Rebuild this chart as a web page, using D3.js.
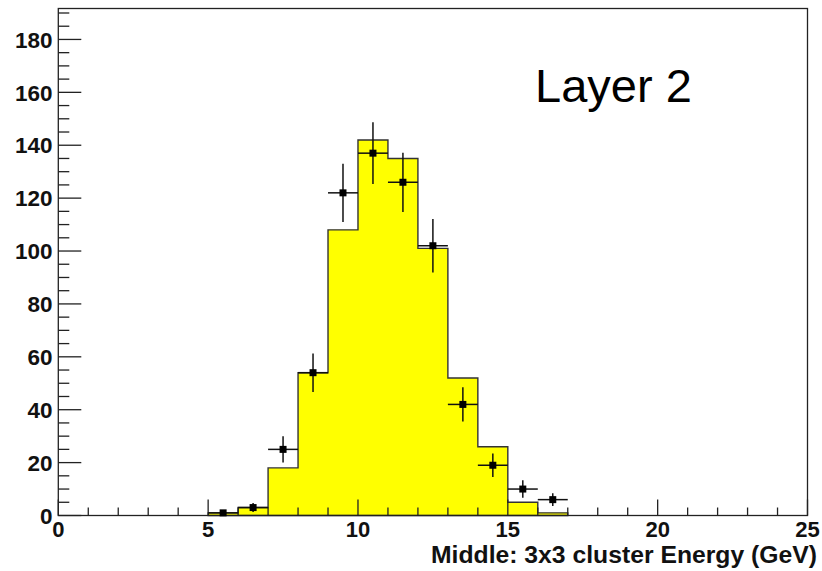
<!DOCTYPE html>
<html>
<head>
<meta charset="utf-8">
<script src="https://cdn.jsdelivr.net/npm/d3@7"></script>
<style>
  html, body { margin: 0; padding: 0; background: #fff; }
  svg { display: block; }
  text { font-family: "Liberation Sans", Arial, Helvetica, sans-serif; }
</style>
</head>
<body>
<svg id="chart" width="822" height="571"></svg>
<script>
// Histogram bins (1 GeV wide), lower edges
const binLow = [5, 6, 7, 8, 9, 10, 11, 12, 13, 14, 15, 16];
const binWidth = 1;
// Simulated histogram counts (yellow)
const histCounts = [1, 3, 18, 54, 108, 142, 135, 101, 52, 26, 5, 1];
// Measured counts (points) and their statistical errors
const dataCounts = [1, 3, 25, 54, 122, 137, 126, 102, 42, 19, 10, 6];
const dataErrors = [1, 1.7, 5, 7.3, 11, 11.7, 11.2, 10.1, 6.5, 4.4, 3.3, 2.4];

const xTickLabels = [0, 5, 10, 15, 20, 25];
const yTickLabels = [0, 20, 40, 60, 80, 100, 120, 140, 160, 180];

const xTitle = "Middle: 3x3 cluster Energy (GeV)";
const panelLabel = "Layer 2";

const svg = d3.select("#chart");
const frame = { left: 58.3, right: 807.5, top: 8.5, bottom: 515.5 };

const x = d3.scaleLinear().domain([0, 25]).range([frame.left, frame.right]);
const y = d3.scaleLinear().domain([0, 191.7]).range([frame.bottom, frame.top]);

const ink = "#222";

// Histogram as a filled step outline
const path = d3.path();
path.moveTo(x(binLow[0]), y(0));
binLow.forEach((lo, i) => {
  path.lineTo(x(lo), y(histCounts[i]));
  path.lineTo(x(lo + binWidth), y(histCounts[i]));
});
path.lineTo(x(binLow[binLow.length - 1] + binWidth), y(0));
path.closePath();

svg.append("path")
  .attr("d", path.toString())
  .attr("fill", "#ffff00")
  .attr("stroke", "#333")
  .attr("stroke-width", 1.4)
  .attr("stroke-linejoin", "miter");

// Frame
svg.append("rect")
  .attr("x", frame.left).attr("y", frame.top)
  .attr("width", frame.right - frame.left)
  .attr("height", frame.bottom - frame.top)
  .attr("fill", "none").attr("stroke", ink).attr("stroke-width", 1.3);

// X ticks: major every 5, minor every 1
const xMinor = d3.range(0, 25.001, 1);
svg.append("g").selectAll("line").data(xMinor).join("line")
  .attr("x1", d => x(d)).attr("x2", d => x(d))
  .attr("y1", frame.bottom)
  .attr("y2", d => frame.bottom - (d % 5 === 0 ? 16 : 8))
  .attr("stroke", ink).attr("stroke-width", 1.3);

svg.append("g").selectAll("text").data(xTickLabels).join("text")
  .attr("x", d => x(d)).attr("y", 537)
  .attr("text-anchor", "middle")
  .attr("font-weight", "bold").attr("font-size", 22)
  .attr("fill", "#111")
  .text(d => d);

// Y ticks: major every 20, minor every 5
const yMinor = d3.range(0, 191, 5);
svg.append("g").selectAll("line").data(yMinor).join("line")
  .attr("x1", frame.left)
  .attr("x2", d => frame.left + (d % 20 === 0 ? 23 : 11))
  .attr("y1", d => y(d)).attr("y2", d => y(d))
  .attr("stroke", ink).attr("stroke-width", 1.3);

svg.append("g").selectAll("text").data(yTickLabels).join("text")
  .attr("x", 52.5).attr("y", d => y(d) + 8.2)
  .attr("text-anchor", "end")
  .attr("font-weight", "bold").attr("font-size", 22.5)
  .attr("fill", "#111")
  .text(d => d);

// Data points with error bars
const pts = svg.append("g");
binLow.forEach((lo, i) => {
  const cx = lo + binWidth / 2;
  const v = dataCounts[i], e = dataErrors[i];
  pts.append("line")
    .attr("x1", x(lo)).attr("x2", x(lo + binWidth))
    .attr("y1", y(v)).attr("y2", y(v))
    .attr("stroke", "#111").attr("stroke-width", 1.5);
  pts.append("line")
    .attr("x1", x(cx)).attr("x2", x(cx))
    .attr("y1", y(v - e)).attr("y2", y(v + e))
    .attr("stroke", "#111").attr("stroke-width", 1.5);
  pts.append("rect")
    .attr("x", x(cx) - 3.5).attr("y", y(v) - 3.5)
    .attr("width", 7).attr("height", 7)
    .attr("fill", "#000");
});

// Axis title
svg.append("text")
  .attr("x", 817).attr("y", 563)
  .attr("text-anchor", "end")
  .attr("font-weight", "bold").attr("font-size", 23)
  .attr("textLength", 386)
  .attr("lengthAdjust", "spacingAndGlyphs")
  .attr("fill", "#111")
  .text(xTitle);

// Panel label
svg.append("text")
  .attr("x", 535).attr("y", 101.7)
  .attr("font-size", 47)
  .attr("fill", "#000")
  .text(panelLabel);
</script>
</body>
</html>
